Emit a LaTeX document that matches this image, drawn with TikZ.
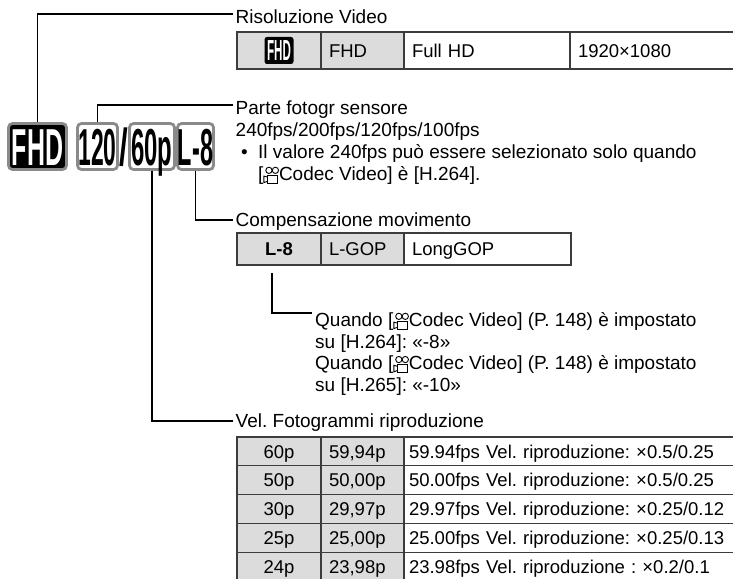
\documentclass[tikz,border=0pt]{standalone}
\usepackage{fontspec}
\setmainfont{Liberation Sans}
\usepackage{graphicx}
\usetikzlibrary{calc}
\frenchspacing
\definecolor{cellgrey}{HTML}{DCDCDC}
\definecolor{rulegrey}{HTML}{3C3C3C}
\definecolor{iconrim}{HTML}{8A8A8A}
\newcommand{\camicon}{\tikz[baseline=0pt,x=1.25pt,y=1.25pt,line width=0.9pt]{%
  \draw (4.6,8.2) circle (2.5);
  \draw (9.8,8.2) circle (2.5);
  \draw (3.4,-2.2) rectangle (11.6,4.4);
  \draw (3.4,-0.6) -- (0.6,-1.6) -- (0.6,3.6) -- (3.4,2.8);}}
\newcommand{\bigtxt}[2]{\scalebox{#1}[1]{\fontsize{52}{52}\selectfont\bfseries #2}}
\begin{document}
\begin{tikzpicture}[x=1pt,y=-1pt,
  lblfont/.style={font=\fontsize{19}{22}\selectfont},
  cellfont/.style={font=\fontsize{18.5}{22}\selectfont},
  lbl/.style={lblfont, inner sep=0pt, text height=13.6pt, text depth=0pt, anchor=base west},
  conn/.style={line width=1.5pt, black},
  cellbase/.style={cellfont, draw=rulegrey, line width=1.2pt, anchor=north west,
    outer sep=0pt, inner ysep=0pt, text height=13.2pt, text depth=0pt},
  cellC/.style 2 args={cellbase, inner xsep=0pt, text width=#1, minimum height=#2, align=center},
  cellL/.style 2 args={cellbase, inner xsep=8pt, text width=#1, minimum height=#2, align=left},
  cellR/.style 2 args={cellbase, inner xsep=5pt, text width=#1, minimum height=#2, align=left},
  grey/.style={fill=cellgrey},
  bigicon/.style={draw=iconrim, line width=2.8pt, rounded corners=4pt, fill=white,
    inner sep=0pt, minimum height=46pt, text height=37.2pt, text depth=0pt},
  smallfhd/.style={fill=black, rounded corners=2.5pt, text=white, inner sep=0pt,
    minimum width=29pt, minimum height=27pt, text height=20.8pt, text depth=0pt}
]
\useasboundingbox (0,0) rectangle (733,578);
\clip (0,0) rectangle (733,578);

% big icons
\node[bigicon, fill=black, text=white, minimum width=58pt] (bfhd) at (37.5,146.5) {\bigtxt{0.48}{FHD}};
\node[bigicon, minimum width=40pt] (b120) at (97.5,146.5) {\bigtxt{0.44}{120}};
\node[bigicon, minimum width=45pt] (b60p) at (152,146.5) {\bigtxt{0.46}{60p}};
\node[bigicon, minimum width=36pt] (bl8) at (195.5,146.5) {\bigtxt{0.45}{L-8}};
\node[inner sep=0pt, text height=37.2pt, text depth=0pt] (slash) at (123.5,147) {\bigtxt{0.6}{/}};

% labels
\node[lbl] (lres) at (235.5,23.6) {Risoluzione Video};
\node[lbl] (lparte) at (235.5,114.6) {Parte fotogr sensore};
\node[lbl] (lfps) at (235.5,136.6) {240fps/200fps/120fps/100fps};
\node[lbl] (bul) at (241,158.6) {•};
\node[lbl] (note1) at (258,158.6) {Il valore 240fps può essere selezionato solo quando};
\node[lbl] (note2) at (258,180.6) {[\camicon Codec Video] è [H.264].};
\node[lbl] (lcomp) at (235.5,226.8) {Compensazione movimento};
\node[lbl] (q1) at (315,326.6) {Quando [\camicon Codec Video] (P. 148) è impostato};
\node[lbl] (q2) at (315,348.2) {su [H.264]: «-8»};
\node[lbl] (q3) at (315,369.8) {Quando [\camicon Codec Video] (P. 148) è impostato};
\node[lbl] (q4) at (315,391.4) {su [H.265]: «-10»};
\node[lbl] (lvel) at (235.5,427.8) {Vel. Fotogrammi riproduzione};

% table 1
\node[cellC={84pt}{37pt}, grey] (t1a) at (237,32) {};
\node[cellL={67pt}{37pt}, grey] (t1b) at (321,32) {FHD};
\node[cellL={150pt}{37pt}] (t1c) at (404,32) {Full HD};
\node[cellL={170pt}{37pt}] (t1d) at (570,32) {1920×1080};
\node[smallfhd] (sfhd) at (t1a.center) {\scalebox{0.4}[1]{\fontsize{29}{29}\selectfont\bfseries FHD}};

% table 2
\node[cellC={84pt}{32pt}, grey, font=\fontsize{18.5}{22}\selectfont\bfseries] (t2a) at (237,233) {L-8};
\node[cellL={67pt}{32pt}, grey] (t2b) at (321,233) {L-GOP};
\node[cellL={151pt}{32pt}] (t2c) at (404,233) {LongGOP};

% table 3
\foreach \i/\a/\b/\c in {0/60p/{59,94p}/{59.94fps Vel. riproduzione: ×0.5/0.25},
                         1/50p/{50,00p}/{50.00fps Vel. riproduzione: ×0.5/0.25},
                         2/30p/{29,97p}/{29.97fps Vel. riproduzione: ×0.25/0.12},
                         3/25p/{25,00p}/{25.00fps Vel. riproduzione: ×0.25/0.13},
                         4/24p/{23,98p}/{23.98fps Vel. riproduzione : ×0.2/0.1}}{
  \node[cellC={84pt}{28.8pt}, grey] (r\i a) at (237,437+28.8*\i) {\a};
  \node[cellL={67pt}{28.8pt}, grey] (r\i b) at (321,437+28.8*\i) {\b};
  \node[cellR={330pt}{28.8pt}] (r\i c) at (404,437+28.8*\i) {\c};
}

% connectors
\draw[conn] (bfhd.north) |- ($(lres.base west)+(-2.5,-9.6)$);
\draw[conn] (b120.north) |- ($(lparte.base west)+(-2.5,-9.6)$);
\draw[conn] (bl8.south) |- ($(lcomp.base west)+(-2.5,-6.8)$);
\draw[conn] (b60p.south) |- ($(lvel.base west)+(-2.5,-6.8)$);
\coordinate (qstart) at (272,273);
\draw[conn] (qstart) |- ($(q1.base west)+(-3,-13.6)$);
\end{tikzpicture}
\end{document}
